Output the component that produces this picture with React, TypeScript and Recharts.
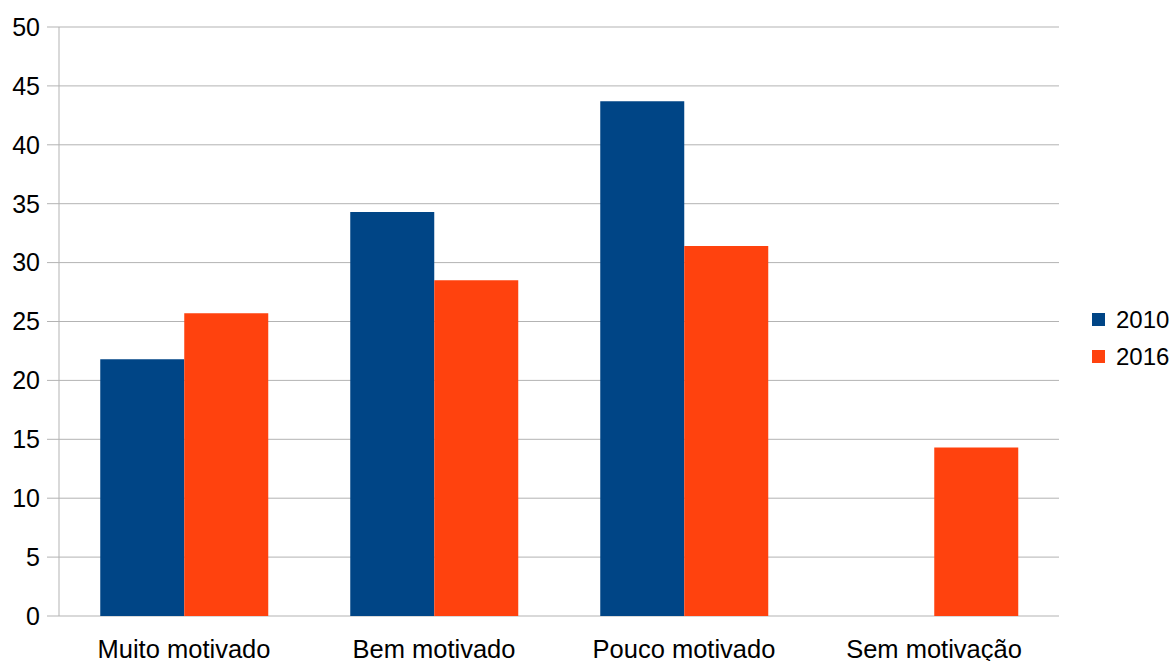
import { BarChart, Bar, XAxis, YAxis, CartesianGrid, Legend, ReferenceLine } from 'recharts'

const categories = ['Muito motivado', 'Bem motivado', 'Pouco motivado', 'Sem motivação']
const values2010 = [21.8, 34.3, 43.7, null]
const values2016 = [25.7, 28.5, 31.4, 14.3]
const yTicks = [0, 5, 10, 15, 20, 25, 30, 35, 40, 45, 50]
const boundaryTicks = [0, 1, 2, 3, 4]

const data = categories.map((name, i) => ({ name, '2010': values2010[i], '2016': values2016[i] }))

const GRID = '#b3b3b3'
const FONT = '"Liberation Sans", Arial, sans-serif'

const LegendBox = ({ payload }: any) => (
  <div style={{ fontFamily: FONT, fontSize: 24, color: '#000', whiteSpace: 'nowrap' }}>
    {(payload || []).map((p: any) => (
      <div key={p.value} style={{ display: 'flex', alignItems: 'center', height: 37 }}>
        <span style={{ width: 13, height: 13, background: p.color, display: 'inline-block', marginRight: 11 }} />
        <span>{p.value}</span>
      </div>
    ))}
  </div>
)

export default function App() {
  // body margin moved into padding so the page is exactly 1174x661
  return (
    <div style={{ fontFamily: FONT, width: 1166, height: 653, padding: '8px 0 0 8px' }}>
      <style>{'body{margin:0}'}</style>
      <BarChart
        width={1166}
        height={653}
        data={data}
        margin={{ top: 19, right: 115, bottom: 0, left: 0 }}
        barCategoryGap="16.5%"
        barGap={0}
      >
        <CartesianGrid xAxisId="cat" vertical={false} stroke={GRID} strokeWidth={1} />
        {/* boundary ticks between categories */}
        <XAxis
          xAxisId={0}
          type="number"
          domain={[0, 4]}
          ticks={boundaryTicks}
          allowDataOverflow
          tick={false}
          tickSize={12}
          height={12}
          axisLine={false}
          tickLine={{ stroke: GRID }}
        />
        <XAxis
          xAxisId="cat"
          dataKey="name"
          tickLine={false}
          axisLine={false}
          tickSize={12}
          tickMargin={0}
          height={33}
          interval={0}
          tick={{ fill: '#000', fontSize: 25.5, fontFamily: FONT }}
        />
        <YAxis
          domain={[0, 50]}
          ticks={yTicks}
          width={51}
          tickSize={12}
          tickMargin={7}
          axisLine={{ stroke: GRID }}
          tickLine={{ stroke: GRID }}
          tick={{ fill: '#000', fontSize: 25, fontFamily: FONT }}
        />
        <ReferenceLine xAxisId={0} x={4} stroke={GRID} />
        <Legend
          layout="vertical"
          align="center"
          verticalAlign="middle"
          content={<LegendBox />}
          wrapperStyle={{ position: 'absolute', left: 1084, top: 293, width: 82 }}
        />
        <Bar xAxisId="cat" dataKey="2010" fill="#004586" isAnimationActive={false} />
        <Bar xAxisId="cat" dataKey="2016" fill="#ff420e" isAnimationActive={false} />
      </BarChart>
    </div>
  )
}
